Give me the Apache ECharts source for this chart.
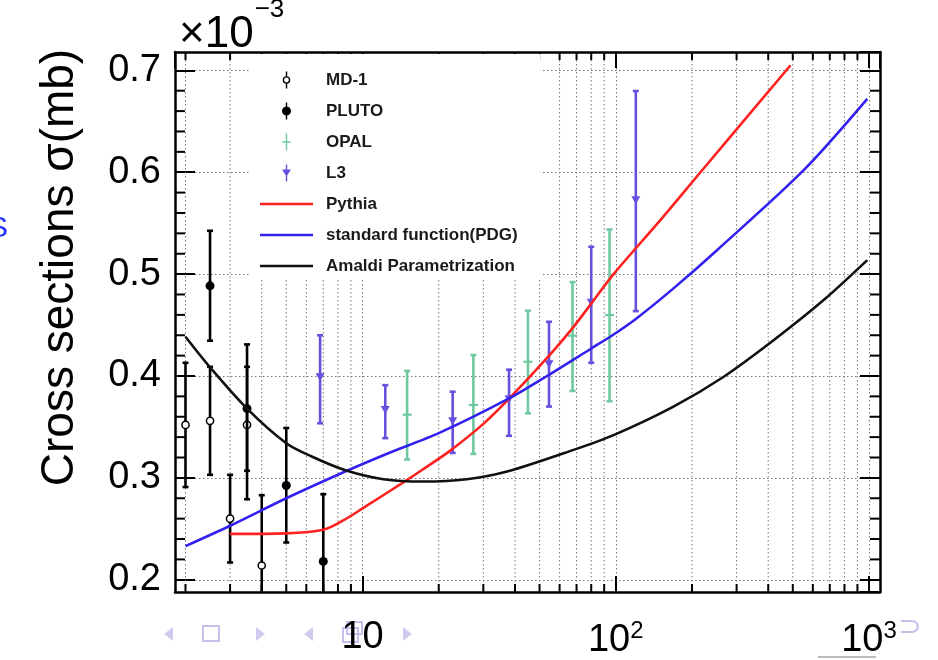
<!DOCTYPE html>
<html><head><meta charset="utf-8">
<script src="https://cdn.jsdelivr.net/npm/echarts@6/dist/echarts.min.js"></script>
<style>html,body{margin:0;padding:0;background:#fff}#c{width:938px;height:660px}</style>
</head><body><div id="c"></div>
<script>
// ---------- data (x = energy, y = cross section in units of 1e-3 mb) ----------
const md1E   = [2.0, 2.5, 3.0, 3.5, 4.0];
const md1Val = [0.352, 0.356, 0.260, 0.352, 0.214];
const md1Lo  = [0.291, 0.303, 0.217, 0.279, 0.145];
const md1Hi  = [0.413, 0.409, 0.303, 0.409, 0.283];

const plutoE   = [2.5, 3.5, 5.0, 7.0];
const plutoVal = [0.4885, 0.368, 0.2925, 0.218];
const plutoLo  = [0.4346, 0.307, 0.2366, 0.152];
const plutoHi  = [0.5425, 0.431, 0.349, 0.284];

const opalE   = [15.0, 27.4, 45.0, 67.5, 94.5];
const opalVal = [0.362, 0.3716, 0.414, 0.4395, 0.4598];
const opalLo  = [0.318, 0.3235, 0.3634, 0.3853, 0.3752];
const opalHi  = [0.405, 0.4206, 0.464, 0.4922, 0.5438];

const l3E   = [6.8, 12.3, 22.7, 37.9, 54.5, 80, 120];
const l3Val = [0.3987, 0.3667, 0.3556, 0.3772, 0.4116, 0.4718, 0.5725];
const l3Lo  = [0.3536, 0.339, 0.3245, 0.3413, 0.370, 0.413, 0.4637];
const l3Hi  = [0.440, 0.391, 0.3846, 0.4062, 0.4532, 0.5268, 0.6797];

const pythiaE   = [3.0, 5.0, 7.0, 8.5, 10, 15, 17, 22, 30, 38, 55, 68, 80, 98, 150, 216, 490];
const pythiaVal = [0.245, 0.2455, 0.249, 0.259, 0.270, 0.298, 0.307, 0.326, 0.353, 0.378, 0.421, 0.448, 0.471, 0.500, 0.553, 0.600, 0.705];

const pdgE   = [2.0, 3.0, 5.0, 8.5, 12.3, 20.2, 37.9, 53.5, 80, 97, 120, 169, 251, 552, 984];
const pdgVal = [0.233, 0.253, 0.280, 0.306, 0.323, 0.3444, 0.378, 0.400, 0.427, 0.440, 0.456, 0.486, 0.5235, 0.602, 0.672];

const amaldiE   = [2.0, 2.5, 3.5, 5.0, 6.3, 8.5, 12.1, 17.4, 25.8, 37.2, 68.1, 98, 169, 267, 421, 662, 984];
const amaldiVal = [0.4385, 0.4085, 0.368, 0.334, 0.321, 0.3078, 0.2987, 0.2964, 0.2987, 0.3062, 0.3275, 0.342, 0.370, 0.3993, 0.4353, 0.4745, 0.5137];

const xMinorTicks = [2,3,4,5,6,7,8,9,20,30,40,50,60,70,80,90,200,300,400,500,600,700,800,900];
const yMinorTicks = [0.22,0.24,0.26,0.28,0.32,0.34,0.36,0.38,0.42,0.44,0.46,0.48,0.52,0.54,0.56,0.58,0.62,0.64,0.66,0.68];

const X_MIN = 1.818, X_MAX = 1105, Y_MIN = 0.188, Y_MAX = 0.718;

// ---------- styling ----------
const FONT = 'Liberation Sans';
const C_RED = '#ff2020', C_BLUE = '#3322ee', C_BLACK = '#111111', C_L3 = '#6650dd', C_OPAL = '#6fc8a0';
const C_GRID = '#777777';

function markerMD1(p){ return {type:'circle', shape:{cx:p[0], cy:p[1], r:3.6}, style:{fill:'#fff', stroke:'#000', lineWidth:1.5}}; }
function markerPLUTO(p){ return {type:'circle', shape:{cx:p[0], cy:p[1], r:4.5}, style:{fill:'#000'}}; }
function markerOPAL(p){ return {type:'line', shape:{x1:p[0]-4.5, y1:p[1], x2:p[0]+4.5, y2:p[1]}, style:{stroke:C_OPAL, lineWidth:2.2}}; }
function markerL3(p){ return {type:'polygon', shape:{points:[[p[0]-4.5,p[1]-4],[p[0]+4.5,p[1]-4],[p[0],p[1]+4]]}, style:{fill:C_L3}}; }

function errSeries(name, E, V, Lo, Hi, color, marker){
  return {
    type:'custom', name, clip:true, z:3, silent:true,
    itemStyle:{color},
    data: E.map((e,i)=>[e, V[i], Lo[i], Hi[i]]),
    encode:{x:0, y:1},
    renderItem:(params, api)=>{
      const x = api.value(0);
      const p  = api.coord([x, api.value(1)]);
      const pl = api.coord([x, api.value(2)]);
      const ph = api.coord([x, api.value(3)]);
      const lw = 2.6, cap = 3;
      return {type:'group', children:[
        {type:'line', shape:{x1:p[0], y1:pl[1], x2:p[0], y2:ph[1]}, style:{stroke:color, lineWidth:lw}},
        {type:'line', shape:{x1:p[0]-cap, y1:pl[1], x2:p[0]+cap, y2:pl[1]}, style:{stroke:color, lineWidth:lw}},
        {type:'line', shape:{x1:p[0]-cap, y1:ph[1], x2:p[0]+cap, y2:ph[1]}, style:{stroke:color, lineWidth:lw}},
        marker(p)
      ]};
    }
  };
}
function curve(name, E, V, color){
  return {type:'line', name, data:E.map((e,i)=>[e, V[i]]), symbol:'none', showSymbol:false,
    smooth:0.3, clip:true, z:4, silent:true,
    lineStyle:{color, width:2.6}, itemStyle:{color}};
}

const BOX = 'M0,0 M53,22 ';
const BAR_FULL = 'M25.8,2.5 L27.2,2.5 L27.2,19.5 L25.8,19.5 Z ';
const ICON_MD1 = 'path://' + BOX + 'M25.8,2.5 L27.2,2.5 L27.2,7.4 L25.8,7.4 Z M25.8,14.6 L27.2,14.6 L27.2,19.5 L25.8,19.5 Z ' +
  'M22.7,11 A3.8,3.8 0 1,1 30.3,11 A3.8,3.8 0 1,1 22.7,11 Z M24.1,11 A2.4,2.4 0 1,0 28.9,11 A2.4,2.4 0 1,0 24.1,11 Z';
const ICON_PLUTO = 'path://' + BOX + BAR_FULL + 'M22,11 A4.5,4.5 0 1,1 31,11 A4.5,4.5 0 1,1 22,11 Z';
const ICON_OPAL = 'path://' + BOX + BAR_FULL + 'M22.3,10.2 L30.7,10.2 L30.7,11.8 L22.3,11.8 Z';
const ICON_L3 = 'path://' + BOX + BAR_FULL + 'M22,7.5 L31,7.5 L26.5,14.5 Z';
const ICON_LINE = 'path://' + BOX + 'M0,9.75 L53,9.75 L53,12.25 L0,12.25 Z';

const tickLine = {lineStyle:{color:'#000', width:2}};
const gridDot = {lineStyle:{color:C_GRID, width:1, type:[1.5,2.5]}};

function xLabel(v){
  const e = Math.round(Math.log10(v));
  if (Math.abs(Math.log10(v) - e) > 1e-6) return '';
  return e === 1 ? '10' : '10{sup|' + e + '}';
}

const option = {
  animation:false,
  backgroundColor:'#fff',
  title:{
    text:'{b|×10}{s|−3}', left:174, top:-8,
    textStyle:{fontWeight:'normal', rich:{
      b:{fontFamily:FONT, fontSize:44, fontWeight:'normal', color:'#000', lineHeight:60, verticalAlign:'bottom'},
      s:{fontFamily:FONT, fontSize:26, fontWeight:'normal', color:'#000', lineHeight:60, verticalAlign:'top', padding:[0,0,0,1]}
    }}
  },
  grid:{left:175, right:58, top:52, bottom:68, containLabel:false},
  legend:{
    orient:'vertical', left:250, top:54, padding:[15,23,3,10],
    itemWidth:53, itemHeight:22, itemGap:9, backgroundColor:'#fff', selectedMode:false,
    textStyle:{fontFamily:FONT, fontWeight:'bold', fontSize:17, color:'#1a1a1a', padding:[0,0,0,8]},
    data:[
      {name:'MD-1', icon:ICON_MD1, itemStyle:{color:'#000'}},
      {name:'PLUTO', icon:ICON_PLUTO, itemStyle:{color:'#000'}},
      {name:'OPAL', icon:ICON_OPAL, itemStyle:{color:C_OPAL}},
      {name:'L3', icon:ICON_L3, itemStyle:{color:C_L3}},
      {name:'Pythia', icon:ICON_LINE, itemStyle:{color:C_RED}},
      {name:'standard function(PDG)', icon:ICON_LINE, itemStyle:{color:C_BLUE}},
      {name:'Amaldi Parametrization', icon:ICON_LINE, itemStyle:{color:C_BLACK}}
    ]
  },
  xAxis:[
    {type:'log', logBase:10, min:X_MIN, max:X_MAX, position:'bottom',
     axisLine:{show:true, onZero:false, lineStyle:{color:'#000', width:2.5}},
     axisTick:Object.assign({show:true, inside:true, length:16}, tickLine),
     axisLabel:{show:true, showMinLabel:false, showMaxLabel:false, margin:27, fontFamily:FONT, fontSize:38, color:'#000',
       formatter:xLabel, rich:{sup:{fontFamily:FONT, fontSize:24, color:'#000', padding:[0,0,20,0]}}},
     splitLine:Object.assign({show:true}, gridDot)},
    {type:'log', logBase:10, min:X_MIN, max:X_MAX, position:'top',
     axisLine:{show:true, onZero:false, lineStyle:{color:'#000', width:2.5}},
     axisTick:Object.assign({show:true, inside:true, length:16}, tickLine),
     axisLabel:{show:false}, splitLine:{show:false}}
  ],
  yAxis:[
    {type:'value', min:Y_MIN, max:Y_MAX, position:'left',
     name:'Cross sections σ(mb)', nameLocation:'middle', nameRotate:90, nameGap:92,
     nameTextStyle:{fontFamily:FONT, fontSize:46, color:'#000', padding:[0,0,0,109]},
     axisLine:{show:true, onZero:false, lineStyle:{color:'#000', width:2.5}},
     axisTick:Object.assign({show:true, inside:true, length:20}, tickLine),
     axisLabel:{show:true, showMinLabel:false, showMaxLabel:false, margin:14, fontFamily:FONT, fontSize:38, color:'#000',
       formatter:v=>{const r=Math.round(v*10)/10; return Math.abs(r-v)<1e-6 ? r.toFixed(1) : '';}},
     splitLine:Object.assign({show:true}, gridDot)},
    {type:'value', min:Y_MIN, max:Y_MAX, position:'right',
     axisLine:{show:true, onZero:false, lineStyle:{color:'#000', width:2.5}},
     axisTick:Object.assign({show:true, inside:true, length:20}, tickLine),
     axisLabel:{show:false}, splitLine:{show:false}}
  ],
  series:[
    {type:'custom', name:'xminor', silent:true, z:1, clip:false,
     data:xMinorTicks.map(v=>[v, 0.3]), encode:{x:0, y:1},
     renderItem:(params, api)=>{
       const cs = params.coordSys; const x = api.coord([api.value(0), 0.3])[0];
       return {type:'group', children:[
         {type:'line', shape:{x1:x, y1:cs.y, x2:x, y2:cs.y+cs.height}, style:{stroke:C_GRID, lineWidth:1, lineDash:[1.5,2.5]}},
         {type:'line', shape:{x1:x, y1:cs.y+cs.height, x2:x, y2:cs.y+cs.height-8}, style:{stroke:'#000', lineWidth:2}},
         {type:'line', shape:{x1:x, y1:cs.y, x2:x, y2:cs.y+8}, style:{stroke:'#000', lineWidth:2}}
       ]};
     }},
    {type:'custom', name:'yminor', silent:true, z:1, clip:false,
     data:yMinorTicks.map(v=>[10, v]), encode:{x:0, y:1},
     renderItem:(params, api)=>{
       const cs = params.coordSys; const y = api.coord([10, api.value(1)])[1];
       return {type:'group', children:[
         {type:'line', shape:{x1:cs.x, y1:y, x2:cs.x+10, y2:y}, style:{stroke:'#000', lineWidth:2}},
         {type:'line', shape:{x1:cs.x+cs.width-10, y1:y, x2:cs.x+cs.width, y2:y}, style:{stroke:'#000', lineWidth:2}}
       ]};
     }},
    errSeries('MD-1', md1E, md1Val, md1Lo, md1Hi, '#000', markerMD1),
    errSeries('PLUTO', plutoE, plutoVal, plutoLo, plutoHi, '#000', markerPLUTO),
    errSeries('OPAL', opalE, opalVal, opalLo, opalHi, C_OPAL, markerOPAL),
    errSeries('L3', l3E, l3Val, l3Lo, l3Hi, C_L3, markerL3),
    curve('Pythia', pythiaE, pythiaVal, C_RED),
    curve('standard function(PDG)', pdgE, pdgVal, C_BLUE),
    curve('Amaldi Parametrization', amaldiE, amaldiVal, C_BLACK)
  ],
  graphic:[
    {type:'polygon', silent:true, z:0, shape:{points:[[173,627],[173,641],[164,634]]}, style:{fill:'#cfcbef'}},
    {type:'rect', silent:true, z:0, shape:{x:203, y:626, width:16, height:15}, style:{fill:'none', stroke:'#c5c1ec', lineWidth:2}},
    {type:'polygon', silent:true, z:0, shape:{points:[[256,627],[256,641],[265,634]]}, style:{fill:'#cfcbef'}},
    {type:'polygon', silent:true, z:0, shape:{points:[[313,627],[313,641],[304,634]]}, style:{fill:'#cfcbef'}},
    {type:'rect', silent:true, z:0, shape:{x:343, y:628, width:15, height:14}, style:{fill:'none', stroke:'#c5c1ec', lineWidth:2}},
    {type:'rect', silent:true, z:0, shape:{x:347, y:622, width:15, height:12}, style:{fill:'none', stroke:'#c5c1ec', lineWidth:2}},
    {type:'polygon', silent:true, z:0, shape:{points:[[403,627],[403,641],[412,634]]}, style:{fill:'#cfcbef'}},
    {type:'text', silent:true, z:0, left:898, top:614, style:{text:'⊃', fontSize:28, fill:'#c5c1ec', fontFamily:'DejaVu Sans'}},
    {type:'rect', silent:true, z:0, shape:{x:818, y:656, width:58, height:2}, style:{fill:'#bbbbbb'}},
    {type:'text', silent:true, z:0, left:-12, top:214, style:{text:'S', fontSize:30, fill:'#2233ff', fontFamily:FONT}}
  ]
};

const chart = echarts.init(document.getElementById('c'), null, {renderer:'canvas'});
chart.setOption(option);
</script>
</body></html>
